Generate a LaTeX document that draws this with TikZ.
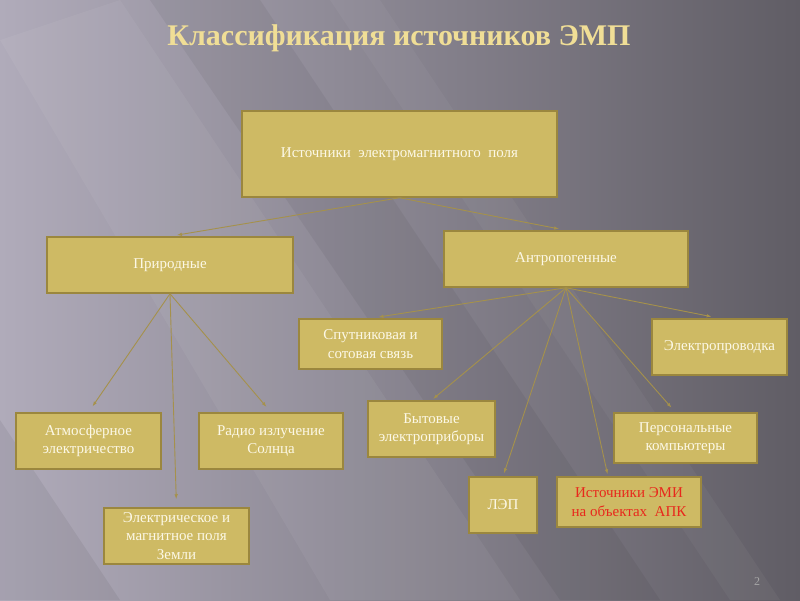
\documentclass[tikz,border=0pt]{standalone}
\usepackage{fontspec}
\setmainfont{Liberation Serif}
\usepackage{xcolor}
\definecolor{bgleft}{RGB}{176, 171, 186}
\definecolor{bgright}{RGB}{96, 93, 101}
\definecolor{boxfill}{RGB}{206, 186, 100}
\definecolor{boxline}{RGB}{155, 135, 62}
\definecolor{linkcol}{RGB}{165, 145, 75}
\definecolor{titlecol}{RGB}{240, 222, 150}
\definecolor{boxtext}{RGB}{252, 248, 230}
\definecolor{alert}{RGB}{232, 40, 28}
\usetikzlibrary{arrows.meta,positioning,calc}

\begin{document}
\begin{tikzpicture}[
  x=1pt, y=-1pt,
  srcbox/.style={draw=boxline, fill=boxfill, line width=1.5pt, font=\fontsize{15}{18.5}\selectfont, text=boxtext, align=center, inner sep=2pt},
  link/.style={-{Latex[length=5pt, width=3.5pt]}, line width=0.9pt, color=linkcol}
]
% background
\useasboundingbox (0,0) rectangle (800,600);
\shade[left color=bgleft, right color=bgright] (0,0) rectangle (800,600);
\fill[white, opacity=0.05] (0,40) -- (120,0) -- (520,600) -- (330,600) -- cycle;
\fill[black, opacity=0.05] (150,0) -- (260,0) -- (660,600) -- (560,600) -- cycle;
\fill[white, opacity=0.04] (330,0) -- (380,0) -- (780,600) -- (730,600) -- cycle;
\fill[black, opacity=0.06] (0,420) -- (0,600) -- (120,600) -- cycle;

\node[font=\fontsize{30}{34}\selectfont\bfseries, text=titlecol] (title) at (399,38) {Классификация источников ЭМП};

\node[srcbox, minimum width=315, minimum height=86] (src) at (399.5,154) {Источники\ \ электромагнитного\ \ поля};
\node[srcbox, minimum width=246, minimum height=56] (prirod) at (170,265) {Природные};
\node[srcbox, minimum width=244, minimum height=56] (antrop) at (566,259) {Антропогенные};

\node[srcbox, minimum width=145, minimum height=56] (atm) at (88.5,441) {Атмосферное\\электричество};
\node[srcbox, minimum width=144, minimum height=56] (radio) at (271,441) {Радио излучение\\Солнца};
\node[srcbox, minimum width=145, minimum height=56] (zemli) at (176.5,536) {Электрическое и\\магнитное поля\\Земли};

\node[srcbox, minimum width=143, minimum height=50] (sput) at (370.5,344) {Спутниковая и\\сотовая связь};
\node[srcbox, minimum width=135, minimum height=56] (provod) at (719.5,347) {Электропроводка};
\node[srcbox, minimum width=127, minimum height=56] (byt) at (431.5,429) {Бытовые\\электроприборы};
\node[srcbox, minimum width=143, minimum height=50] (pers) at (685.5,438) {Персональные\\компьютеры};
\node[srcbox, minimum width=68, minimum height=56] (lep) at (503,505) {ЛЭП};
\node[srcbox, minimum width=144, minimum height=50, text=alert] (emi) at (629,502) {Источники ЭМИ\\на объектах\ \ АПК};

\node[font=\fontsize{12}{14}\selectfont, text=black!35] (pagenum) at (757,582) {2};

\draw[link, shorten >=7pt] (src.south) -- (prirod.north);
\draw[link, shorten >=7pt] (src.south) -- (antrop.north);

\draw[link, shorten >=7pt] (prirod.south) -- (atm.north);
\draw[link, shorten >=7pt] (prirod.south) -- (radio.north);
\draw[link, shorten >=8pt] (prirod.south) -- (zemli.north);

\draw[link, shorten >=8pt] (antrop.south) -- (sput.north);
\draw[link, shorten >=8pt] (antrop.south) -- (provod.north);
\draw[link, shorten >=2pt] (antrop.south) -- (byt.north);
\draw[link, shorten >=3pt] (antrop.south) -- (lep.north);
\draw[link, shorten >=2pt] (antrop.south) -- ([xshift=-21pt]emi.north);
\draw[link, shorten >=6pt] (antrop.south) -- ([xshift=-10pt]pers.north);
\end{tikzpicture}
\end{document}
